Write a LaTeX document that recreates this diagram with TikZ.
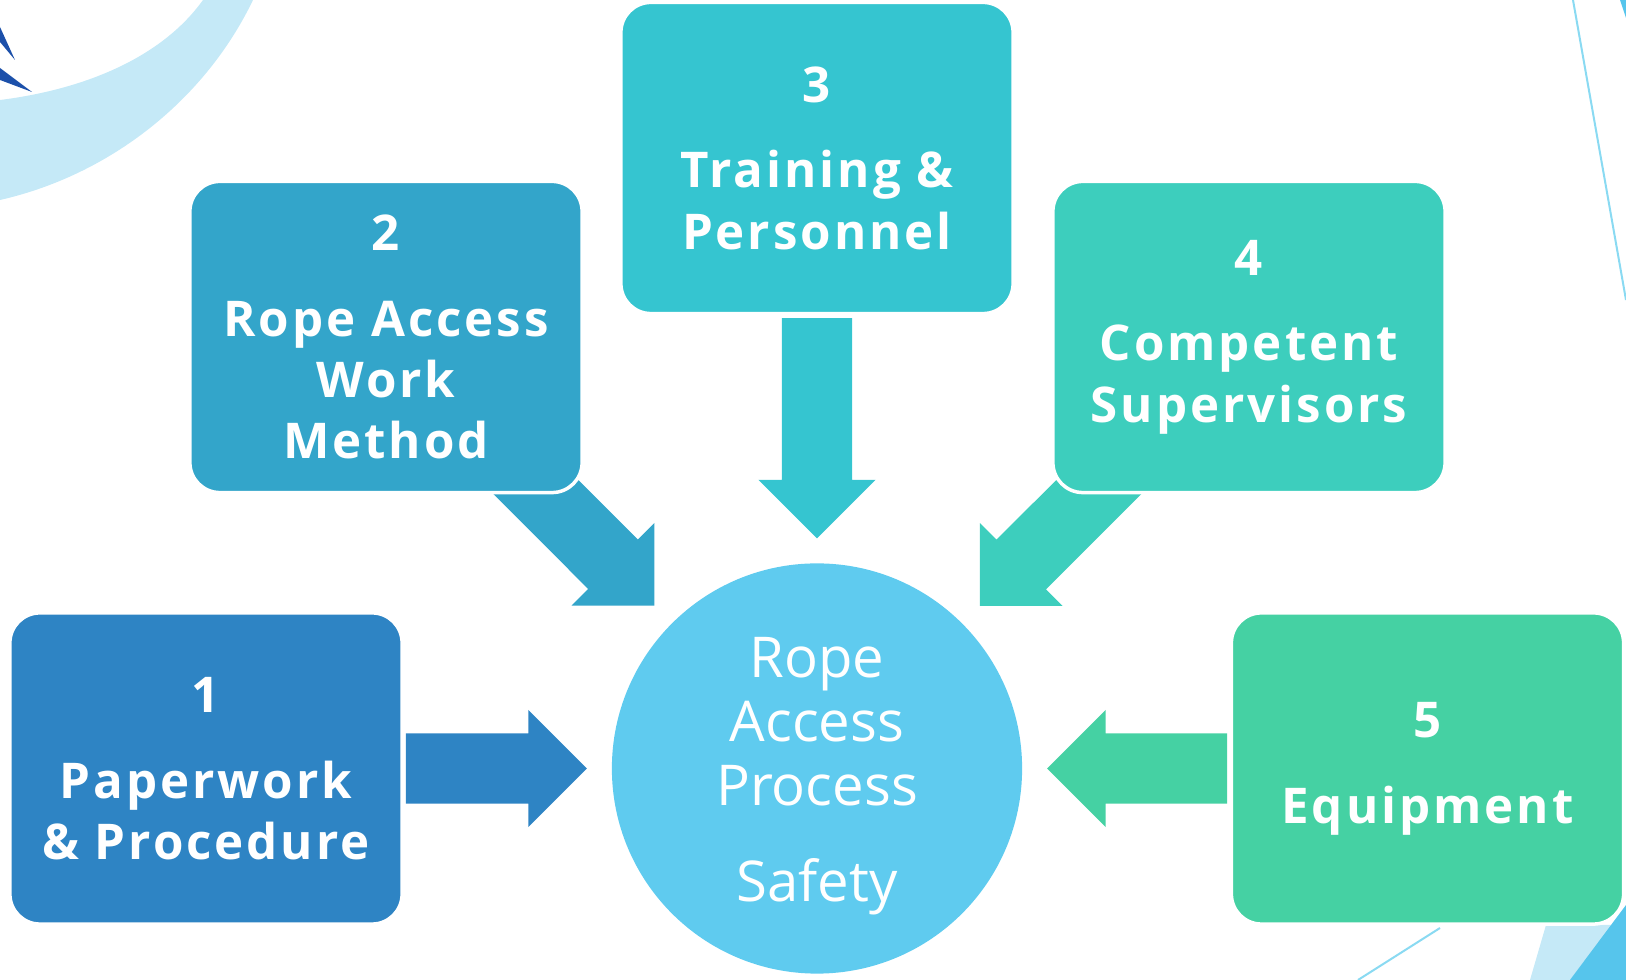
\documentclass[tikz,border=0pt]{standalone}
\usepackage{fontspec}
\setmainfont{Open Sans}
\usetikzlibrary{calc,backgrounds}
\definecolor{PaperColor}{RGB}{46,132,196}
\definecolor{MethodColor}{RGB}{51,165,202}
\definecolor{TrainingColor}{RGB}{53,197,208}
\definecolor{SupervisorColor}{RGB}{61,206,189}
\definecolor{EquipmentColor}{RGB}{69,209,163}
\definecolor{HubColor}{RGB}{95,203,239}
\definecolor{SwooshColor}{RGB}{197,233,247}
\definecolor{SpikeColor}{RGB}{28,80,170}
\definecolor{LineColor}{RGB}{138,218,242}
\definecolor{CornerColor}{RGB}{86,197,236}

\begin{document}
\begin{tikzpicture}[x=0.01cm, y=-0.01cm,
    stepbox/.style={rounded corners=3mm, draw=white, line width=0.35mm,
      minimum width=39.2mm, minimum height=31.1mm, align=center, text=white,
      font={\fontsize{14}{17.4}\selectfont\bfseries\addfontfeatures{LetterSpace=6}}},
    hub/.style={circle, fill=HubColor, minimum size=41mm},
    hubtext/.style={align=center, text=white,
      font={\fontsize{16}{18.2}\selectfont}}]

    \useasboundingbox (0,0) rectangle (1626,980);

    % slide decoration
    \fill[SwooshColor] (0,200) .. controls (110,175) and (205,100) .. (253,0)
        -- (203,0) .. controls (160,60) and (80,90) .. (0,100) -- cycle;
    \fill[SpikeColor] (0,27) -- (15,60) -- (0,42) -- cycle;
    \fill[SpikeColor] (0,68) -- (32,92) -- (0,80) -- cycle;
    \draw[LineColor, line width=0.2mm] (1573,0) -- (1626,300);
    \fill[CornerColor] (1620,0) -- (1626,0) -- (1626,18) -- cycle;
    \fill[SwooshColor] (1546,925) -- (1626,925) -- (1626,980) -- (1530,980) -- cycle;
    \fill[CornerColor] (1570,980) -- (1626,905) -- (1626,980) -- cycle;
    \draw[LineColor, line width=0.2mm] (1358,980) -- (1440,928);

    \node[hub] (hub) at (817,768.5) {};
    \node[hubtext] (hubtext) at (817,776) {Rope\\Access\\Process\\[9pt]Safety};

    \node[stepbox, fill=PaperColor] (box1) at (206,768.5)
        {1\\[7pt]Paperwork\\\& Procedure};
    \node[stepbox, fill=MethodColor] (box2) at (386,337)
        {2\\[7pt]Rope Access\\Work\\Method};
    \node[stepbox, fill=TrainingColor] (box3) at (817,158)
        {3\\[7pt]Training \&\\Personnel};
    \node[stepbox, fill=SupervisorColor] (box4) at (1249,337)
        {4\\[7pt]Competent\\Supervisors};
    \node[stepbox, fill=EquipmentColor] (box5) at (1427.5,768.5)
        {5\\[7pt]Equipment};

    \begin{scope}[on background layer]
        \foreach \b/\len/\c in {box1/41.1mm/PaperColor, box2/45mm/MethodColor,
            box3/45mm/TrainingColor, box4/45mm/SupervisorColor,
            box5/41mm/EquipmentColor} {
            \coordinate (tail) at ($(hub.center)!\len!(\b.center)$);
            \coordinate (tip) at ($(hub.center)!23mm!(\b.center)$);
            \coordinate (neck) at ($(tip)!5.85mm!(tail)$);
            \fill[\c] ($(tail)!3.5mm!90:(tip)$) -- ($(neck)!3.5mm!90:(tip)$)
                -- ($(neck)!5.85mm!90:(tip)$) -- (tip)
                -- ($(neck)!5.85mm!-90:(tip)$) -- ($(neck)!3.5mm!-90:(tip)$)
                -- ($(tail)!3.5mm!-90:(tip)$) -- cycle;
        }
    \end{scope}

\end{tikzpicture}
\end{document}
